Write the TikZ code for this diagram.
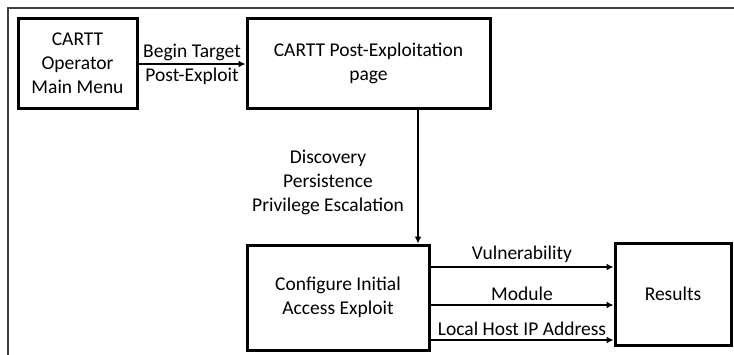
\documentclass[tikz,border=0pt]{standalone}
\usepackage{fontspec}
\setmainfont{Carlito}
\usetikzlibrary{arrows.meta}

\begin{document}
\begin{tikzpicture}[x=1pt, y=-1pt,
    font=\fontsize{19.5}{24}\selectfont,
    stage/.style={draw, line width=3pt, align=center, inner sep=0pt},
    flow/.style={line width=2pt, -{Latex[length=7pt,width=7pt]}},
    frameline/.style={draw=black!75, line width=2pt}]
                \useasboundingbox (0,0) rectangle (734,354);
                % Frame
                \draw[frameline] (736,8) -- (8,8) -- (8,356);

                % Nodes
                \node[stage, minimum width=119pt, minimum height=90pt] (menu) at (77.5,63) {CARTT\\Operator\\Main Menu};     % Start
                \node[stage, minimum width=243pt, minimum height=90pt] (postex) at (368.5,63) {CARTT Post-Exploitation\\page};
                \node[stage, minimum width=182pt, minimum height=105pt] (config) at (338,297.5) {Configure Initial\\Access Exploit};
                \node[stage, minimum width=116pt, minimum height=102pt] (results) at (673,294) {Results};       % End

                % Edges
                \draw[flow] (menu.east |- 0,64) -- (postex.west |- 0,64);
                \node[align=center] (begin) at (192,64) {Begin Target\\Post-Exploit};
                \draw[flow] (postex.south -| 418,0) -- (config.north -| 418,0);
                \node[align=center] (phases) at (328,182) {Discovery\\Persistence\\Privilege Escalation};
                \draw[flow] (config.east |- 0,267) -- node[above, inner sep=3pt] (vuln) {Vulnerability} (results.west |- 0,267);
                \draw[flow] (config.east |- 0,305) -- node[above, inner sep=3pt] (mod) {Module} (results.west |- 0,305);
                \draw[flow] (config.east |- 0,340) -- node[above, inner sep=3pt] (lhost) {Local Host IP Address} (results.west |- 0,340);
            \end{tikzpicture}
\end{document}
